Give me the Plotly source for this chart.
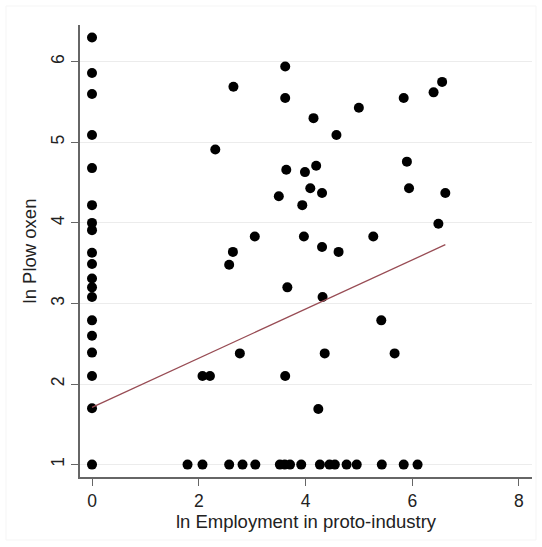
import plotly.graph_objects as go

# ln employment in proto-industry (x) and ln plow oxen (y)
emp = [
    # districts with no proto-industry
    0, 0, 0, 0, 0, 0, 0, 0, 0, 0, 0, 0, 0, 0, 0, 0, 0, 0, 0,
    # scattered cloud
    3.62, 2.65, 3.62, 5.00, 4.15, 4.58, 2.31, 3.64, 3.99, 4.20,
    4.09, 4.31, 3.50, 3.94, 3.05, 3.97, 5.27, 4.31, 4.62, 2.64,
    2.57, 5.84, 6.40, 6.56, 5.90, 5.94, 6.62, 6.49, 3.66, 4.32,
    2.77, 4.36, 2.07, 2.21, 3.62, 4.24, 5.42, 5.67,
    # districts with minimal oxen
    1.79, 2.07, 2.57, 2.82, 3.06, 3.52, 3.61, 3.71, 3.92, 4.27,
    4.45, 4.55, 4.77, 4.96, 5.43, 5.84, 6.10,
]
oxen = [
    6.30, 5.86, 5.60, 5.09, 4.68, 4.22, 4.00, 3.91, 3.63, 3.49,
    3.31, 3.20, 3.08, 2.79, 2.60, 2.39, 2.10, 1.70, 1.00,
    5.94, 5.69, 5.55, 5.43, 5.30, 5.09, 4.91, 4.66, 4.63, 4.71,
    4.43, 4.37, 4.33, 4.22, 3.83, 3.83, 3.83, 3.70, 3.64, 3.64,
    3.48, 5.55, 5.62, 5.75, 4.76, 4.43, 4.37, 3.99, 3.20, 3.08,
    2.38, 2.38, 2.10, 2.10, 2.10, 1.69, 2.79, 2.38,
    1, 1, 1, 1, 1, 1, 1, 1, 1, 1,
    1, 1, 1, 1, 1, 1, 1,
]

# linear fit: oxen = a + b * emp
fit_intercept = 1.71
fit_slope = 0.305

x_ticks = [0, 2, 4, 6, 8]
y_ticks = [1, 2, 3, 4, 5, 6]

fit_x = [0, max(emp)]
fit_y = [fit_intercept + fit_slope * v for v in fit_x]

fig = go.Figure()
fig.add_trace(go.Scatter(
    x=emp, y=oxen, mode="markers",
    marker=dict(color="black", size=10, line=dict(width=0)),
    showlegend=False, hoverinfo="skip",
))
fig.add_trace(go.Scatter(
    x=fit_x, y=fit_y, mode="lines",
    line=dict(color="#984c54", width=1.3),
    showlegend=False, hoverinfo="skip",
))

axis_font = dict(family="Liberation Sans, Arial, sans-serif", size=17.5, color="#222")
title_font = dict(family="Liberation Sans, Arial, sans-serif", size=18.5, color="#222")

fig.update_layout(
    width=542, height=547,
    margin=dict(l=80, r=10, t=25, b=70),
    paper_bgcolor="white", plot_bgcolor="white",
    xaxis=dict(
        range=[-0.225, 8.244], tickvals=x_ticks,
        showgrid=False, zeroline=False,
        showline=True, linecolor="#666", linewidth=1.5,
        ticks="outside", ticklen=7, tickwidth=1.3, tickcolor="#666",
        tickfont=axis_font,
        title=dict(text="ln Employment in proto-industry", font=title_font, standoff=5),
    ),
    yaxis=dict(
        range=[0.846, 6.456], tickvals=y_ticks, tickangle=-90,
        showgrid=True, gridcolor="#ececec", gridwidth=1.2, zeroline=False,
        showline=True, linecolor="#666", linewidth=1.5,
        ticks="outside", ticklen=7, tickwidth=1.3, tickcolor="#666",
        tickfont=axis_font,
        title=dict(text="ln Plow oxen", font=title_font, standoff=7),
    ),
    shapes=[dict(
        type="rect", xref="paper", yref="paper",
        x0=-74 / 452, x1=1 + 4 / 452, y0=-63 / 452, y1=1 + 19 / 452,
        line=dict(color="#f5f5f5", width=1), fillcolor="rgba(0,0,0,0)",
        layer="below",
    )],
)

fig.write_html("out.html")
